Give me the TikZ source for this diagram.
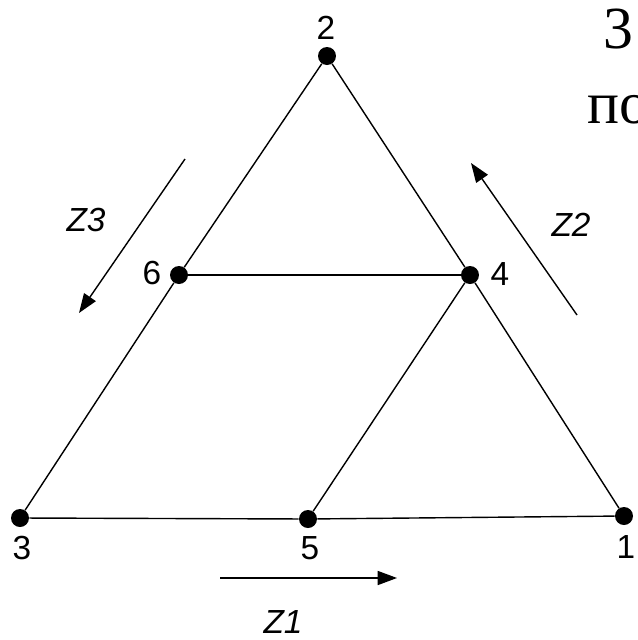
\documentclass[tikz,border=0pt]{standalone}
\usepackage{fontspec}
\setmainfont{Liberation Serif}
\setsansfont{Liberation Sans}
\usetikzlibrary{arrows.meta}

\begin{document}
\begin{tikzpicture}[
  x=0.02cm, y=-0.02cm,
  vtx/.style  = {circle, fill=black, inner sep=0pt, minimum size=0.36cm},
  edge/.style = {line width=0.8pt, black},
  zarr/.style = {line width=0.8pt, -{Triangle[length=11pt,width=8pt]}},
  lbl/.style  = {inner sep=0pt, font=\sffamily\fontsize{19}{21}\selectfont},
  zlbl/.style = {inner sep=0pt, font=\sffamily\itshape\fontsize{19}{21}\selectfont},
  big/.style  = {inner sep=0pt, anchor=base west,
                 font=\rmfamily\fontsize{34}{40}\selectfont},
]
\useasboundingbox (0,0) rectangle (638,640);

% vertices
\node[vtx] (n2) at (327,56)  {};
\node[vtx] (n6) at (179,275) {};
\node[vtx] (n4) at (470,275) {};
\node[vtx] (n3) at (20,518)  {};
\node[vtx] (n5) at (308,519) {};
\node[vtx] (n1) at (624,516) {};

% edges
\draw[edge] (n3) -- (n6) -- (n2) -- (n4) -- (n1);
\draw[edge] (n3) -- (n5) -- (n1);
\draw[edge] (n6) -- (n4);
\draw[edge] (n4) -- (n5);

% vertex numbers
\node[lbl] (l2) at (326,28)  {2};
\node[lbl] (l6) at (152,273) {6};
\node[lbl] (l4) at (500,274) {4};
\node[lbl] (l3) at (22,548)  {3};
\node[lbl] (l5) at (310,548) {5};
\node[lbl] (l1) at (626,547) {1};

% direction arrows
\coordinate (z3a) at (185,159);
\coordinate (z3b) at (79,313);
\coordinate (z2a) at (577,315);
\coordinate (z2b) at (471,163);
\coordinate (z1a) at (220,578);
\coordinate (z1b) at (397,578);
\draw[zarr] (z3a) -- (z3b);
\draw[zarr] (z2a) -- (z2b);
\draw[zarr] (z1a) -- (z1b);
\node[zlbl] (lz3) at (86,220)  {Z3};
\node[zlbl] (lz2) at (571,225) {Z2};
\node[zlbl] (lz1) at (283,622) {Z1};

% slide text, cut at the edge
\node[big] (t3)  at (603,48)  {3};
\node[big] (tpo) at (587,123) {по};

\end{tikzpicture}
\end{document}
